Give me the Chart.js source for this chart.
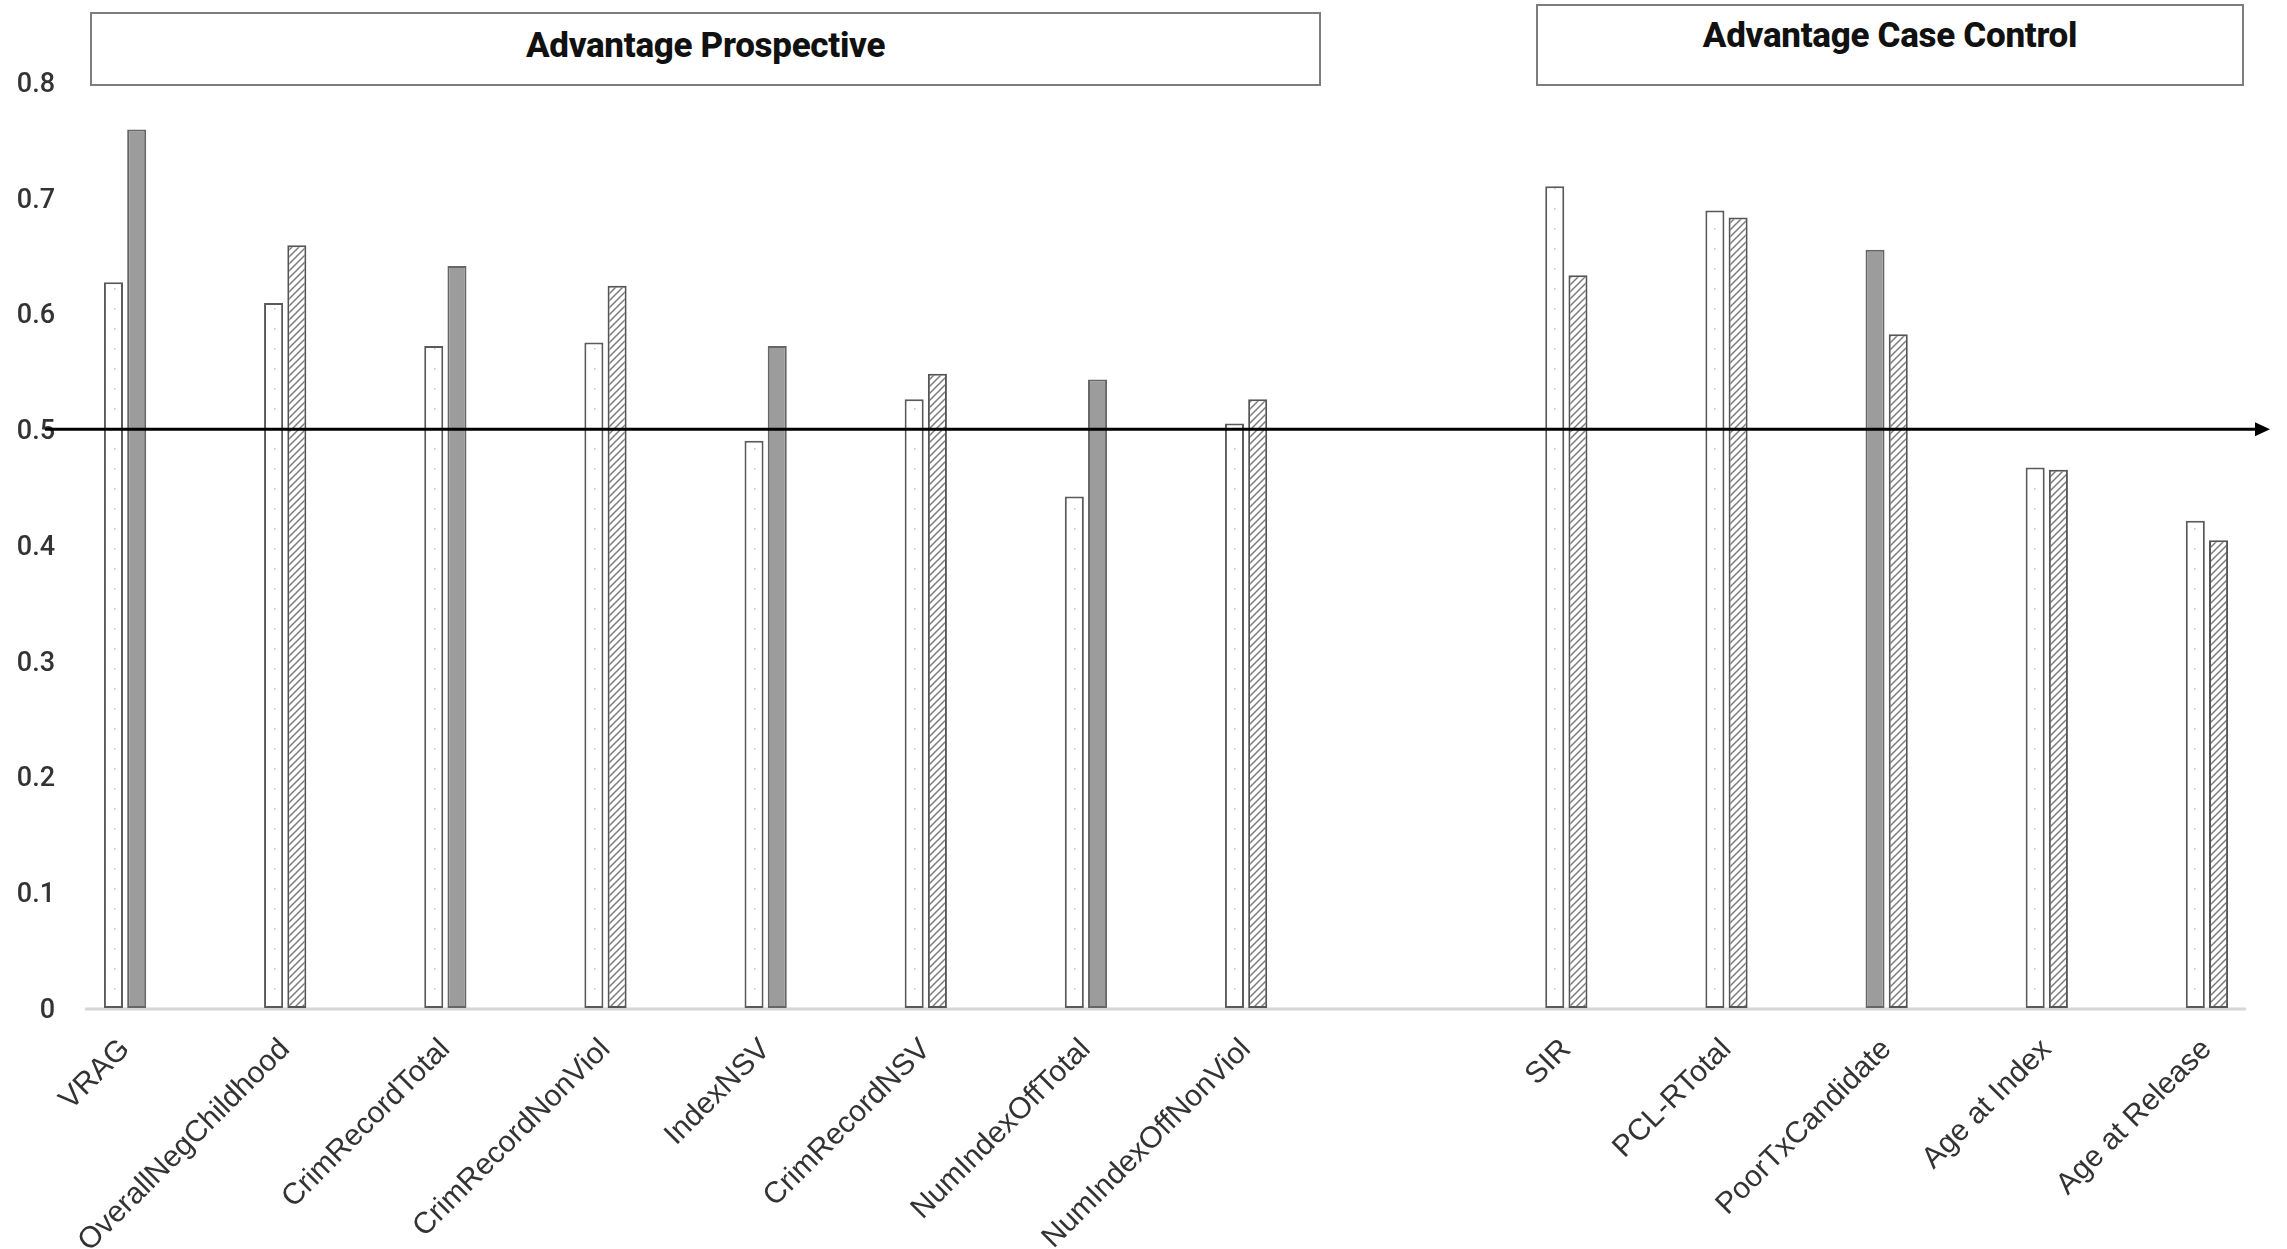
<!DOCTYPE html>
<html>
<head>
<meta charset="utf-8">
<script src="https://cdn.jsdelivr.net/npm/chart.js@4.4.1/dist/chart.umd.min.js"></script>
<style>
  body { margin: 0; background: #fff; }
  #wrap { position: relative; width: 2287px; height: 1249px; }
  #chartBox { width: 2287px; height: 1249px; }
  .panel {
    position: absolute;
    box-sizing: border-box;
    border: 2px solid #7d7d7d;
    background: #fff;
    display: flex;
    align-items: center;
    justify-content: center;
    font-family: Roboto, "Liberation Sans", sans-serif;
    font-weight: 800;
    font-size: 35px;
    letter-spacing: -0.3px;
    color: #111;
  }
</style>
</head>
<body>
<div id="wrap">
  <div id="chartBox"><canvas id="aucChart"></canvas></div>
  <div class="panel" style="left:90px;top:12px;width:1231px;height:74px;padding-bottom:8px;">Advantage Prospective</div>
  <div class="panel" style="left:1536px;top:4px;width:708px;height:82px;padding-bottom:20px;">Advantage Case Control</div>
</div>
<script>
// measures, one empty slot separates the two groups
let categories = ['VRAG', 'OverallNegChildhood', 'CrimRecordTotal', 'CrimRecordNonViol', 'IndexNSV',
  'CrimRecordNSV', 'NumIndexOffTotal', 'NumIndexOffNonViol', '',
  'SIR', 'PCL-RTotal', 'PoorTxCandidate', 'Age at Index', 'Age at Release'];

let leftValues  = [0.627, 0.609, 0.572, 0.575, 0.490, 0.526, 0.442, 0.505, null, 0.710, 0.689, 0.655, 0.467, 0.421];
let rightValues = [0.759, 0.659, 0.641, 0.624, 0.572, 0.548, 0.543, 0.526, null, 0.633, 0.683, 0.582, 0.465, 0.404];

// which fill each bar gets
let leftKind  = ['dots', 'dots', 'dots', 'dots', 'dots', 'dots', 'dots', 'dots', null, 'dots', 'dots', 'solid', 'dots', 'dots'];
let rightKind = ['solid', 'hatch', 'solid', 'hatch', 'solid', 'hatch', 'solid', 'hatch', null, 'hatch', 'hatch', 'hatch', 'hatch', 'hatch'];

let yTicks = ['0', '0.1', '0.2', '0.3', '0.4', '0.5', '0.6', '0.7', '0.8'];
let chanceLevel = 0.5;

function makeHatch() {
  let c = document.createElement('canvas');
  c.width = 7; c.height = 7;
  let g = c.getContext('2d');
  g.fillStyle = '#fff';
  g.fillRect(0, 0, 7, 7);
  g.strokeStyle = '#7c7c7c';
  g.lineWidth = 1.5;
  g.beginPath();
  g.moveTo(0, 7); g.lineTo(7, 0);
  g.moveTo(-2, 2); g.lineTo(2, -2);
  g.moveTo(5, 9); g.lineTo(9, 5);
  g.stroke();
  return g.createPattern(c, 'repeat');
}

function makeDots() {
  let c = document.createElement('canvas');
  c.width = 10; c.height = 20;
  let g = c.getContext('2d');
  g.fillStyle = '#fff';
  g.fillRect(0, 0, 10, 20);
  g.fillStyle = '#c4c4c4';
  g.fillRect(4, 8, 1.5, 1.5);
  return g.createPattern(c, 'repeat');
}

let fills = { dots: makeDots(), hatch: makeHatch(), solid: '#9c9c9c' };
let edges = { dots: '#5a5a5a', hatch: '#555555', solid: '#666666' };

// baseline under the bars and the 0.5 arrow across the plot
const guides = {
  id: 'guides',
  beforeDatasetsDraw(chart) {
    const { ctx, scales: { x, y } } = chart;
    const y0 = y.getPixelForValue(0);
    ctx.save();
    ctx.strokeStyle = '#d6d6d6';
    ctx.lineWidth = 3;
    ctx.beginPath();
    ctx.moveTo(x.getPixelForValue(0) - 40, y0 + 1);
    ctx.lineTo(x.getPixelForValue(categories.length - 1) + 39, y0 + 1);
    ctx.stroke();
    ctx.restore();
  },
  afterDatasetsDraw(chart) {
    const { ctx, chartArea, scales: { y } } = chart;
    const yc = y.getPixelForValue(chanceLevel);
    const tip = chartArea.right - 17;
    ctx.save();
    ctx.strokeStyle = '#000';
    ctx.fillStyle = '#000';
    ctx.lineWidth = 3;
    ctx.beginPath();
    ctx.moveTo(chartArea.left, yc);
    ctx.lineTo(tip - 12, yc);
    ctx.stroke();
    ctx.beginPath();
    ctx.moveTo(tip, yc);
    ctx.lineTo(tip - 15, yc - 7);
    ctx.lineTo(tip - 15, yc + 7);
    ctx.closePath();
    ctx.fill();
    ctx.restore();
  }
};

let ctx = document.getElementById('aucChart').getContext('2d');

let chart = new Chart(ctx, {
  type: 'bar',
  data: {
    labels: categories,
    datasets: [{
      data: leftValues,
      backgroundColor: leftKind.map(k => k ? fills[k] : 'transparent'),
      borderColor: leftKind.map(k => k ? edges[k] : 'transparent'),
      borderWidth: 2,
      borderSkipped: false
    }, {
      data: rightValues,
      backgroundColor: rightKind.map(k => k ? fills[k] : 'transparent'),
      borderColor: rightKind.map(k => k ? edges[k] : 'transparent'),
      borderWidth: 2,
      borderSkipped: false
    }]
  },
  options: {
    responsive: true,
    maintainAspectRatio: false,
    animation: false,
    categoryPercentage: 0.29,
    barPercentage: 0.82,
    layout: { padding: { top: 82, left: 0, right: 0, bottom: 0 } },
    plugins: {
      legend: { display: false },
      tooltip: { enabled: false }
    },
    scales: {
      x: {
        grid: { display: false },
        border: { display: false },
        afterFit: s => { s.height = 241; },
        ticks: {
          autoSkip: false,
          minRotation: 45,
          maxRotation: 45,
          padding: 16,
          color: '#333333',
          font: { family: '"Liberation Sans", Arial, sans-serif', size: 30 }
        }
      },
      y: {
        min: 0,
        max: 0.8,
        grid: { display: false },
        border: { display: false },
        afterFit: s => {
          s.width = 45;
          // let the tick labels run a little past the narrow axis box
          s._computeLabelArea = () => null;
        },
        ticks: {
          stepSize: 0.1,
          padding: -18,
          labelOffset: 3,
          color: '#333333',
          font: { family: 'Roboto, sans-serif', size: 27, weight: '500' },
          callback: (v, i) => yTicks[i]
        }
      }
    }
  },
  plugins: [guides]
});
</script>
</body>
</html>
